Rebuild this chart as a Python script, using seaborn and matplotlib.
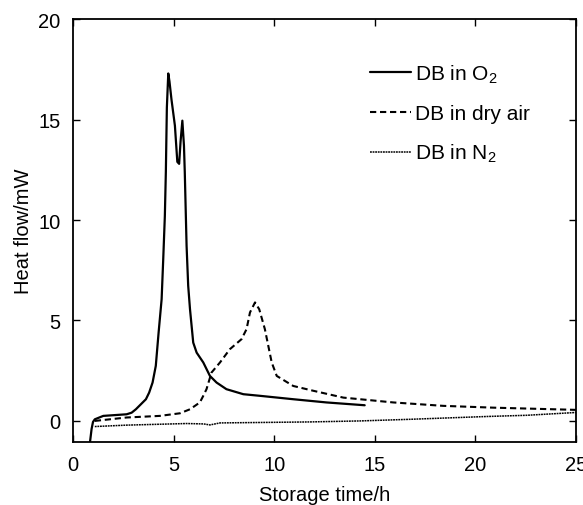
import numpy as np
import pandas as pd
import matplotlib
matplotlib.use('Agg')
import matplotlib.pyplot as plt
import seaborn as sns

# Data
o2_time = [0.85, 0.93, 1.0, 1.09, 1.51, 2.67, 2.92, 3.13, 3.38, 3.63, 3.79, 3.96, 4.12, 4.26,
           4.41, 4.49, 4.57, 4.62, 4.67, 4.74, 4.8, 4.9, 5.07, 5.19, 5.28, 5.35, 5.44, 5.52,
           5.56, 5.65, 5.73, 5.82, 5.98, 6.15, 6.48, 6.81, 7.14, 7.63, 8.47, 9.29, 10.95,
           12.6, 14.5]
o2_heat = [-1.06, -0.4, -0.05, 0.08, 0.25, 0.33, 0.41, 0.58, 0.83, 1.08, 1.41, 1.91, 2.74, 4.4,
           6.06, 8.06, 10.2, 12.4, 15.6, 17.3, 16.9, 16.0, 14.7, 12.9, 12.8, 13.9, 14.95, 13.7,
           12.4, 8.72, 6.73, 5.56, 3.9, 3.4, 2.91, 2.24, 1.91, 1.58, 1.33, 1.25, 1.08,
           0.92, 0.78]

air_time = [1.09, 2.67, 4.32, 5.32, 5.82, 6.31, 6.48, 6.64, 6.89, 7.31, 7.8, 8.38, 8.63, 8.8,
            9.05, 9.26, 9.54, 9.71, 9.88, 10.13, 10.95, 11.95, 13.44, 15.92, 18.4, 20.89, 25.0]
air_heat = [0.0, 0.17, 0.25, 0.38, 0.58, 0.92, 1.25, 1.58, 2.41, 2.91, 3.57, 4.07, 4.57, 5.4,
            5.9, 5.56, 4.57, 3.74, 2.91, 2.24, 1.74, 1.5, 1.16, 0.92, 0.75, 0.66, 0.55]

n2_time = [1.09, 2.67, 5.65, 6.5, 6.81, 7.31, 11.8, 14.3, 16.75, 20.56, 22.55, 25.0]
n2_heat = [-0.28, -0.21, -0.13, -0.15, -0.2, -0.1, -0.05, 0.0, 0.08, 0.22, 0.28, 0.42]

labels = ['DB in O$_2$', 'DB in dry air', 'DB in N$_2$']

sns.set_style('ticks')
plt.rcParams['font.family'] = ['Liberation Sans', 'DejaVu Sans']
plt.rcParams['mathtext.fontset'] = 'custom'
plt.rcParams['mathtext.rm'] = 'Liberation Sans'
plt.rcParams['mathtext.it'] = 'Liberation Sans'
plt.rcParams['text.color'] = 'black'
plt.rcParams['axes.labelcolor'] = 'black'

fig = plt.figure(figsize=(5.83, 5.06), dpi=100)
ax = fig.add_axes([0.125, 0.1245, 0.863, 0.8355])

sns.lineplot(x=o2_time, y=o2_heat, ax=ax, color='black', lw=1.6, label=labels[0], sort=False)
sns.lineplot(x=air_time, y=air_heat, ax=ax, color='black', lw=1.5, label=labels[1], sort=False)
sns.lineplot(x=n2_time, y=n2_heat, ax=ax, color='black', lw=1.1, label=labels[2], sort=False)
ax.lines[1].set_dashes([3, 1.8])
ax.lines[2].set_dashes([1.2, 0.5])

ax.set_xlim(0, 25)
ax.set_ylim(-1.05, 20)
ax.set_xticks([0, 5, 10, 15, 20, 25])
ax.set_yticks([0, 5, 10, 15, 20])
ax.tick_params(direction='in', length=5, width=1, top=True, right=True,
               labelsize=14.5, pad=9, color='black', labelcolor='black')
for s in ax.spines.values():
    s.set_linewidth(1.3)
    s.set_color('black')

ax.set_xlabel('Storage time/h', fontsize=14.5, labelpad=8)
ax.set_ylabel('Heat flow/mW', fontsize=14.5, labelpad=4)

leg = ax.legend(loc='upper left', bbox_to_anchor=(0.59, 0.898), frameon=False,
                borderaxespad=0, borderpad=0,
                fontsize=15, handlelength=2.0, handletextpad=0.15, labelspacing=0.92)

fig.savefig('out.png', dpi=100)
